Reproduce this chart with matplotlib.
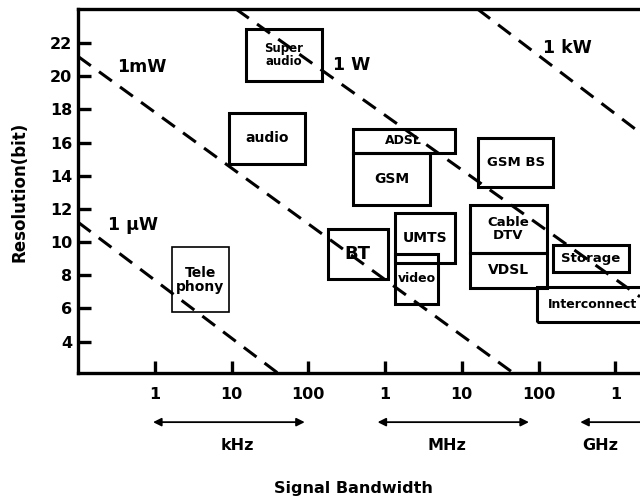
import matplotlib
matplotlib.use("Agg")
import matplotlib.pyplot as plt
import matplotlib.transforms as mtransforms
from matplotlib.patches import Rectangle

plt.rcParams['font.family'] = ['DejaVu Sans']
plt.rcParams['font.weight'] = 'bold'

# Прикладные области: полоса сигнала (Гц) и разрешение (бит)
box_labels = ['Super\naudio', 'audio', 'ADSL', 'GSM', 'GSM BS', 'Tele\nphony', 'BT',
              'UMTS', 'video', 'Cable\nDTV', 'VDSL', 'Storage', 'Interconnect']
bw_lo = [1.55e4, 9.2e3, 3.8e5, 3.8e5, 1.63e7, 1.67e3, 1.8e5,
         1.35e6, 1.35e6, 1.28e7, 1.28e7, 1.55e8, 9.6e7]
bw_hi = [1.5e5, 9.0e4, 8.1e6, 3.85e6, 1.55e8, 9.2e3, 1.09e6,
         8.1e6, 4.9e6, 1.29e8, 1.29e8, 1.51e9, 2.6e9]
bits_lo = [19.7, 14.7, 15.4, 12.25, 13.3, 5.75, 7.75, 8.75, 6.25, 9.35, 7.25, 8.2, 5.2]
bits_hi = [22.85, 17.8, 16.85, 15.4, 16.3, 9.7, 10.8, 11.75, 9.3, 12.25, 9.35, 9.8, 7.3]
box_fontsize = [8.5, 10, 9, 10, 9.5, 10, 13, 10, 9, 9.5, 10, 9.5, 9]
box_lw = [2.2, 2.2, 2.2, 2.2, 2.2, 1.2, 2.2, 2.2, 2.2, 2.2, 2.2, 2.2, 2.2]

# Линии постоянной мощности
power_labels = ['1 \u03bcW', '1mW', '1 W', '1 kW']
line_bw = [(1e2, 4e4), (1e2, 4.7e7), (1.14e4, 2.1e9), (1.6e7, 2.1e9)]
line_bits = [(11.2, 2.1), (21.2, 2.1), (24.06, 6.7), (24.06, 16.6)]
label_bw = [2.45e2, 3.2e2, 2.1e5, 1.15e8]
label_bits = [11.05, 20.55, 20.7, 21.7]

# Оси
xticks = [1e3, 1e4, 1e5, 1e6, 1e7, 1e8, 1e9]
xticklabels = ['1', '10', '100', '1', '10', '100', '1']
yticks = [4, 6, 8, 10, 12, 14, 16, 18, 20, 22]
units = ['kHz', 'MHz', 'GHz']
unit_bw = [1.2e4, 6.5e6, 6.3e8]
arrow_lo = [0.95e3, 0.8e6, 0.35e9]
arrow_hi = [9.0e4, 7.5e7, 3e10]

fig = plt.figure(figsize=(6.4, 4.99), dpi=100)
ax = fig.add_axes([78 / 640, 1 - 373 / 499, 1 - 78 / 640, (373 - 9) / 499])
ax.set_xscale('log')
ax.set_xlim(1e2, 2.1e9)
ax.set_ylim(2.1, 24.06)

for i, lab in enumerate(box_labels):
    ax.add_patch(Rectangle((bw_lo[i], bits_lo[i]), bw_hi[i] - bw_lo[i], bits_hi[i] - bits_lo[i],
                           fill=False, edgecolor='black', linewidth=box_lw[i], zorder=2))
    cx = (bw_lo[i] * bw_hi[i]) ** 0.5
    cy = (bits_lo[i] + bits_hi[i]) / 2
    ax.text(cx, cy, lab, ha='center', va='center', fontsize=box_fontsize[i],
            fontweight='bold', linespacing=1.0, zorder=3)

for i, lab in enumerate(power_labels):
    ax.plot(line_bw[i], line_bits[i], color='black', linewidth=2.2,
            dashes=(5.2, 3.3), zorder=4)
    ax.text(label_bw[i], label_bits[i], lab, ha='left', va='center',
            fontsize=12.5, fontweight='bold', zorder=5)

ax.set_xticks(xticks)
ax.set_xticklabels(xticklabels)
ax.minorticks_off()
ax.set_yticks(yticks)
ax.tick_params(axis='both', direction='in', length=9, width=2.4, labelsize=11.5)
ax.tick_params(axis='x', pad=10)
ax.tick_params(axis='y', pad=4)
for lbl in ax.get_xticklabels() + ax.get_yticklabels():
    lbl.set_fontweight('bold')

for side in ['top', 'left', 'bottom']:
    ax.spines[side].set_linewidth(2.4)
ax.spines['right'].set_visible(False)

# Стрелки диапазонов под осью
trans = mtransforms.blended_transform_factory(ax.transData, ax.transAxes)
for i, u in enumerate(units):
    ax.annotate('', xy=(arrow_hi[i], -0.135), xytext=(arrow_lo[i], -0.135),
                xycoords=trans, textcoords=trans, annotation_clip=False,
                arrowprops=dict(arrowstyle='<|-|>', color='black', lw=1.3,
                                mutation_scale=12, shrinkA=0, shrinkB=0))
    ax.text(unit_bw[i], -0.198, u, transform=trans, ha='center', va='center',
            fontsize=11.5, fontweight='bold', clip_on=False)

fig.text(353 / 640, 1 - 488 / 499, 'Signal Bandwidth', ha='center', va='center',
         fontsize=11.5, fontweight='bold')
fig.text(20 / 640, 1 - 192 / 499, 'Resolution(bit)', ha='center', va='center',
         rotation=90, fontsize=12, fontweight='bold')

fig.savefig('out.png', dpi=100)
